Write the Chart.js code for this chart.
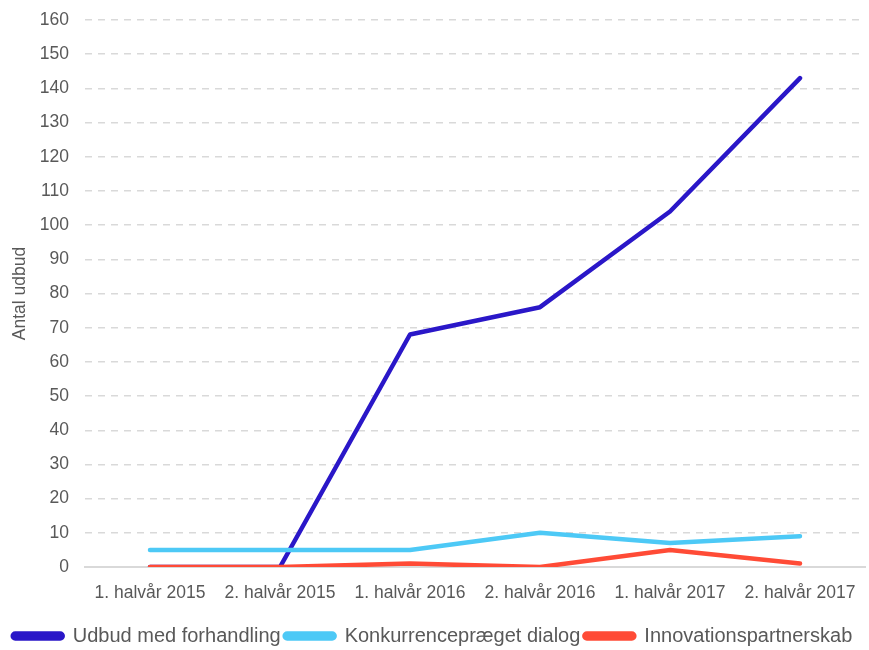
<!DOCTYPE html>
<html>
<head>
<meta charset="utf-8">
<script src="https://cdn.jsdelivr.net/npm/chart.js@4/dist/chart.umd.min.js"></script>
<style>
  html, body { margin: 0; padding: 0; background: #fff; }
  #wrap { width: 869px; height: 650px; }
</style>
</head>
<body>
<div id="wrap"><canvas id="mychart" width="869" height="650"></canvas></div>
<script>
const periods = ['1. halvår 2015', '2. halvår 2015', '1. halvår 2016', '2. halvår 2016', '1. halvår 2017', '2. halvår 2017'];
const forhandling = [0, 0, 68, 76, 104, 143];
const dialog = [5, 5, 5, 10, 7, 9];
const partnerskab = [0, 0, 1, 0, 5, 1];

const fontFamily = "'Liberation Sans', Arial, sans-serif";
const textColor = '#595959';
const fontSize = 17.5;

const ctx = document.getElementById('mychart').getContext('2d');
new Chart(ctx, {
    type: 'line',
    data: {
        labels: periods,
        datasets: [
            // higher order = drawn lower, so red ends up on top like the original
            { label: 'Udbud med forhandling', data: forhandling, borderColor: '#2a17c8', backgroundColor: '#2a17c8', order: 3 },
            { label: 'Konkurrencepræget dialog', data: dialog, borderColor: '#4dc9f6', backgroundColor: '#4dc9f6', order: 2 },
            { label: 'Innovationspartnerskab', data: partnerskab, borderColor: '#ff4b36', backgroundColor: '#ff4b36', order: 1 }
        ]
    },
    options: {
        responsive: false,
        animation: false,
        layout: { padding: { top: 20, right: 4, left: 0, bottom: -6 } },
        elements: {
            line: { borderWidth: 4.5, tension: 0, borderCapStyle: 'round', borderJoinStyle: 'round' },
            point: { radius: 0 }
        },
        plugins: {
            legend: {
                position: 'bottom',
                labels: {
                    font: { family: fontFamily, size: 20 },
                    color: textColor,
                    boxWidth: 50,
                    boxHeight: 5,
                    useBorderRadius: true,
                    borderRadius: 2.5,
                    padding: 4,
                    sort: (a, b) => a.datasetIndex - b.datasetIndex
                }
            },
            tooltip: { enabled: false }
        },
        scales: {
            x: {
                offset: true,
                grid: { display: false },
                border: { color: '#d9d9d9', width: 2 },
                ticks: { font: { family: fontFamily, size: fontSize }, color: textColor, padding: 8, maxRotation: 0 },
                afterFit: (scale) => { scale.height = 55; }
            },
            y: {
                min: 0,
                max: 160,
                ticks: { stepSize: 10, font: { family: fontFamily, size: fontSize }, color: textColor, padding: 16 },
                grid: { color: '#d9d9d9', lineWidth: 1.5, drawTicks: false },
                border: { display: false, dash: [7, 6] },
                title: { display: true, text: 'Antal udbud', font: { family: fontFamily, size: fontSize }, color: textColor, padding: { top: 10, bottom: 0 } },
                afterFit: (scale) => { scale.width = 85; scale.paddingTop = 0; }
            }
        }
    }
});
</script>
</body>
</html>
